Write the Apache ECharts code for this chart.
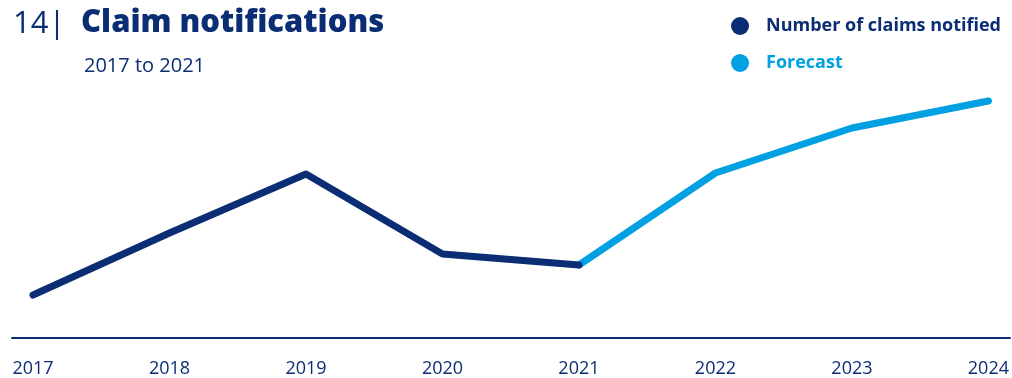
<!DOCTYPE html>
<html lang="en">
<head>
    <meta charset="utf-8">
    <title>Claim notifications</title>
    <style>
        html, body { margin: 0; padding: 0; background: #fff; }
        #chart { width: 1012px; height: 378px; }
    </style>
    <script src="https://cdn.jsdelivr.net/npm/echarts@6/dist/echarts.min.js"></script>
</head>
<body>
    <div id="chart"></div>
    <script type="text/javascript">
        // 数据
        var years = ["2017", "2018", "2019", "2020", "2021", "2022", "2023", "2024"];
        var claimsNotified = [43, 105, 164, 84, 73, null, null, null];
        var forecast = [null, null, null, null, 73, 165, 210, 237];

        var navy = "#0a2d74";
        var lightBlue = "#00a0e2";
        var font = "'Open Sans', 'Noto Sans', sans-serif";

        var mychart = echarts.init(document.getElementById("chart"));
        var option = {
            backgroundColor: "#fff",
            animation: false,
            textStyle: { fontFamily: font },
            title: [{
                text: "14|",
                left: 8, top: 4,
                textStyle: { fontSize: 31, fontWeight: "normal", color: navy, fontFamily: font }
            }, {
                text: "Claim notifications",
                left: 76, top: 3,
                textStyle: { fontSize: 31, fontWeight: 800, color: navy, fontFamily: font }
            }, {
                text: "2017 to 2021",
                left: 79, top: 51,
                textStyle: { fontSize: 20, fontWeight: "normal", color: navy, fontFamily: font }
            }],
            legend: {
                orient: "vertical",
                right: 6, top: 12,
                itemGap: 19,
                itemWidth: 18, itemHeight: 18,
                icon: "circle",
                data: [
                    { name: "Number of claims notified", textStyle: { color: navy } },
                    { name: "Forecast", textStyle: { color: lightBlue } }
                ],
                textStyle: { fontSize: 18, fontWeight: "bold", fontFamily: font, padding: [0, 0, 0, 12] }
            },
            grid: [
                { left: 33, right: 18, top: 38, bottom: 40 },
                { left: 12, right: 2, top: 38, bottom: 40 }
            ],
            xAxis: [{
                type: "category",
                gridIndex: 0,
                data: years,
                boundaryGap: false,
                axisLine: { show: false },
                axisTick: { show: false },
                axisLabel: { fontSize: 18, color: navy, margin: 22, fontFamily: font }
            }, {
                type: "value",
                gridIndex: 1,
                min: 0, max: 1,
                axisLine: { show: true, lineStyle: { color: navy, width: 2 } },
                axisTick: { show: false },
                axisLabel: { show: false },
                splitLine: { show: false }
            }],
            yAxis: [{
                type: "value", gridIndex: 0, min: 0, max: 300, show: false
            }, {
                type: "value", gridIndex: 1, min: 0, max: 300, show: false
            }],
            series: [{
                name: "Number of claims notified",
                type: "line",
                data: claimsNotified,
                color: navy,
                symbol: "none",
                lineStyle: { width: 7, color: navy, cap: "round", join: "round" },
                z: 3
            }, {
                name: "Forecast",
                type: "line",
                data: forecast,
                color: lightBlue,
                symbol: "none",
                lineStyle: { width: 7, color: lightBlue, cap: "round", join: "round" },
                z: 2
            }]
        };
        mychart.setOption(option);
    </script>
</body>
</html>
